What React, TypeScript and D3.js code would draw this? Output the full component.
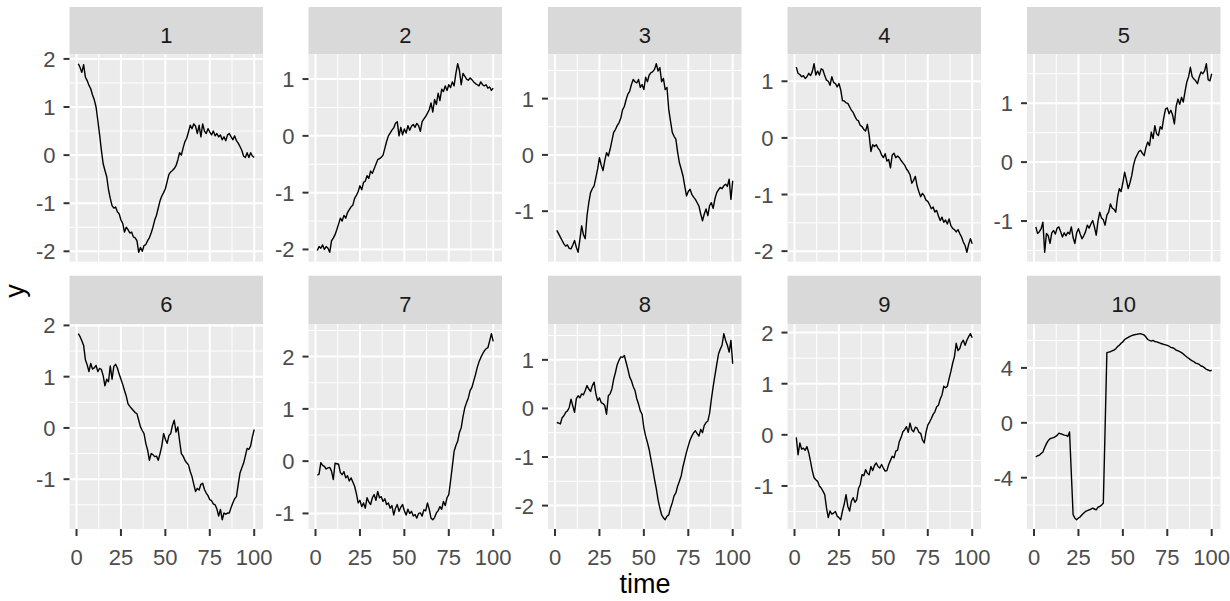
import React from 'react';
import * as d3 from 'd3';

const W = 1230;
const H = 601;

// time index shared by every facet
const times = d3.range(1, 101);

const s1 = [1.90, 1.82, 1.72, 1.88, 1.62, 1.55, 1.45, 1.38, 1.25, 1.15, 1.00, 0.72, 0.42, 0.10, -0.18, -0.32, -0.45, -0.72, -0.90, -1.05,
  -1.10, -1.08, -1.18, -1.22, -1.35, -1.42, -1.60, -1.50, -1.55, -1.62, -1.60, -1.70, -1.72, -1.78, -2.02, -1.92, -2.00, -1.88, -1.86, -1.78,
  -1.72, -1.62, -1.50, -1.35, -1.25, -1.10, -0.95, -0.85, -0.78, -0.70, -0.55, -0.40, -0.35, -0.32, -0.28, -0.22, -0.10, 0.05, 0.00, 0.15,
  0.28, 0.35, 0.48, 0.62, 0.55, 0.65, 0.60, 0.45, 0.62, 0.38, 0.65, 0.50, 0.45, 0.55, 0.48, 0.42, 0.50, 0.40, 0.45, 0.38,
  0.42, 0.32, 0.38, 0.30, 0.42, 0.45, 0.38, 0.32, 0.40, 0.30, 0.25, 0.18, 0.10, -0.02, -0.05, 0.05, -0.05, 0.05, -0.02, -0.05];

const s2 = [-2.02, -1.95, -1.98, -1.92, -2.00, -1.95, -1.98, -2.05, -1.85, -1.80, -1.74, -1.65, -1.55, -1.45, -1.50, -1.40, -1.45, -1.35, -1.30, -1.25,
  -1.22, -1.10, -1.05, -0.98, -0.88, -0.95, -0.82, -0.80, -0.70, -0.75, -0.62, -0.66, -0.58, -0.50, -0.42, -0.40, -0.38, -0.34, -0.22, -0.10,
  0.00, 0.05, 0.10, 0.14, 0.22, 0.25, 0.00, 0.15, 0.02, 0.12, 0.05, 0.18, 0.10, 0.17, 0.20, 0.15, 0.22, 0.18, 0.08, 0.25,
  0.30, 0.34, 0.40, 0.46, 0.58, 0.42, 0.64, 0.55, 0.75, 0.62, 0.82, 0.78, 0.88, 0.80, 0.90, 0.85, 0.95, 0.88, 1.10, 1.27,
  1.15, 0.90, 1.10, 1.05, 1.00, 0.98, 1.02, 0.99, 0.95, 0.92, 0.90, 0.88, 0.95, 0.90, 0.88, 0.90, 0.84, 0.86, 0.80, 0.84];

const s3 = [-1.34, -1.40, -1.46, -1.52, -1.58, -1.62, -1.60, -1.66, -1.67, -1.60, -1.52, -1.64, -1.73, -1.50, -1.26, -1.42, -1.49, -1.08, -0.85, -0.67,
  -0.60, -0.55, -0.40, -0.25, -0.05, -0.18, -0.28, -0.10, 0.04, -0.02, 0.10, 0.25, 0.40, 0.45, 0.52, 0.57, 0.65, 0.80, 0.86, 0.98,
  1.08, 1.13, 1.25, 1.34, 1.30, 1.28, 1.34, 1.20, 1.25, 1.16, 1.38, 1.30, 1.42, 1.46, 1.48, 1.52, 1.62, 1.49, 1.55, 1.30,
  1.36, 1.16, 1.20, 0.81, 0.60, 0.40, 0.33, 0.28, 0.05, -0.14, -0.25, -0.37, -0.55, -0.73, -0.65, -0.61, -0.70, -0.75, -0.79, -0.85,
  -0.91, -1.05, -1.17, -1.05, -0.96, -1.08, -0.90, -0.85, -0.95, -0.78, -0.67, -0.62, -0.58, -0.60, -0.55, -0.52, -0.56, -0.43, -0.79, -0.46];

const s4 = [1.25, 1.14, 1.12, 1.08, 1.10, 1.05, 1.08, 1.14, 1.10, 1.17, 1.31, 1.11, 1.18, 1.11, 1.22, 1.20, 1.10, 1.02, 1.00, 0.93,
  1.08, 0.98, 0.96, 0.90, 0.96, 0.85, 0.66, 0.65, 0.62, 0.61, 0.55, 0.49, 0.45, 0.38, 0.32, 0.30, 0.22, 0.20, 0.15, 0.12,
  0.24, 0.05, -0.24, -0.12, -0.15, -0.12, -0.18, -0.22, -0.30, -0.35, -0.28, -0.41, -0.38, -0.53, -0.30, -0.27, -0.35, -0.32, -0.35, -0.40,
  -0.44, -0.48, -0.55, -0.59, -0.65, -0.80, -0.75, -0.68, -0.85, -0.95, -1.04, -0.98, -1.02, -1.10, -1.12, -1.18, -1.25, -1.22, -1.31, -1.28,
  -1.38, -1.46, -1.40, -1.49, -1.45, -1.52, -1.43, -1.55, -1.60, -1.62, -1.66, -1.62, -1.69, -1.75, -1.84, -1.90, -2.02, -1.88, -1.78, -1.87];

const s5 = [-1.10, -1.21, -1.18, -1.13, -1.02, -1.53, -1.21, -1.25, -1.38, -1.20, -1.16, -1.22, -1.12, -1.10, -1.18, -1.27, -1.20, -1.25, -1.19, -1.22,
  -1.10, -1.28, -1.38, -1.20, -1.13, -1.22, -1.30, -1.25, -1.18, -1.07, -1.12, -1.05, -0.99, -1.10, -1.24, -1.00, -0.85, -0.95, -0.98, -1.07,
  -0.90, -0.85, -0.71, -0.78, -0.80, -0.85, -0.60, -0.45, -0.50, -0.35, -0.17, -0.30, -0.45, -0.35, -0.23, -0.05, 0.06, 0.12, 0.18, 0.20,
  0.15, 0.11, 0.25, 0.34, 0.28, 0.51, 0.40, 0.62, 0.48, 0.45, 0.60, 0.56, 0.75, 0.90, 0.92, 0.82, 0.88, 0.80, 0.65, 0.95,
  1.07, 0.98, 1.10, 1.02, 1.20, 1.36, 1.45, 1.61, 1.45, 1.41, 1.38, 1.33, 1.45, 1.53, 1.50, 1.55, 1.67, 1.40, 1.38, 1.50];

const s6 = [1.84, 1.78, 1.70, 1.61, 1.33, 1.23, 1.10, 1.26, 1.15, 1.17, 1.22, 1.10, 1.16, 1.14, 1.02, 0.82, 0.95, 0.90, 1.21, 0.95,
  1.20, 1.24, 1.17, 1.05, 0.95, 0.85, 0.73, 0.62, 0.47, 0.42, 0.38, 0.34, 0.30, 0.28, 0.15, 0.02, -0.05, -0.11, -0.30, -0.43,
  -0.63, -0.50, -0.52, -0.56, -0.55, -0.63, -0.50, -0.35, -0.11, -0.22, -0.30, -0.15, -0.11, 0.05, 0.15, -0.08, 0.02, -0.25, -0.50, -0.55,
  -0.63, -0.68, -0.72, -0.85, -0.95, -1.10, -1.24, -1.18, -1.21, -1.10, -1.08, -1.20, -1.27, -1.32, -1.40, -1.42, -1.48, -1.50, -1.58, -1.72,
  -1.59, -1.79, -1.66, -1.68, -1.66, -1.66, -1.55, -1.46, -1.38, -1.34, -1.10, -0.88, -0.78, -0.69, -0.55, -0.40, -0.42, -0.35, -0.17, -0.03];

const s7 = [-0.27, -0.25, -0.03, -0.08, -0.10, -0.15, -0.13, -0.12, -0.19, -0.35, -0.04, -0.05, -0.06, -0.22, -0.26, -0.20, -0.32, -0.28, -0.38, -0.32,
  -0.40, -0.48, -0.62, -0.80, -0.75, -0.87, -0.80, -0.90, -0.70, -0.78, -0.83, -0.70, -0.64, -0.75, -0.58, -0.70, -0.68, -0.77, -0.72, -0.83,
  -0.80, -0.90, -0.85, -1.03, -0.90, -0.83, -0.96, -0.88, -0.83, -0.95, -1.03, -0.92, -1.00, -0.96, -1.05, -1.02, -1.09, -1.00, -0.99, -1.05,
  -0.93, -0.95, -0.80, -0.92, -1.09, -1.12, -1.08, -0.99, -0.95, -0.87, -0.92, -0.77, -0.85, -0.70, -0.64, -0.38, -0.10, 0.19, 0.30, 0.38,
  0.55, 0.64, 0.85, 1.02, 1.12, 1.21, 1.35, 1.41, 1.53, 1.65, 1.79, 1.90, 1.98, 2.05, 2.11, 2.15, 2.17, 2.30, 2.44, 2.29];

const s8 = [-0.29, -0.30, -0.32, -0.19, -0.15, -0.08, -0.05, 0.02, 0.19, 0.05, -0.08, 0.20, 0.26, 0.22, 0.30, 0.28, 0.37, 0.47, 0.40, 0.35,
  0.47, 0.54, 0.30, 0.16, 0.22, 0.12, 0.10, 0.06, -0.12, 0.26, 0.30, 0.40, 0.60, 0.74, 0.90, 0.99, 1.06, 1.05, 1.09, 0.95,
  0.81, 0.65, 0.57, 0.45, 0.37, 0.20, 0.09, -0.05, -0.12, -0.40, -0.57, -0.70, -0.85, -1.05, -1.25, -1.46, -1.65, -1.88, -2.05, -2.19,
  -2.25, -2.29, -2.22, -2.19, -2.05, -1.94, -1.80, -1.74, -1.60, -1.50, -1.39, -1.20, -1.05, -0.90, -0.77, -0.65, -0.57, -0.50, -0.46, -0.52,
  -0.57, -0.43, -0.50, -0.35, -0.29, -0.26, -0.10, 0.19, 0.45, 0.68, 0.90, 1.12, 1.22, 1.30, 1.54, 1.40, 1.30, 1.16, 1.40, 0.92];

const s9 = [-0.05, -0.39, -0.16, -0.28, -0.26, -0.30, -0.23, -0.35, -0.52, -0.70, -0.84, -0.88, -0.91, -1.00, -1.04, -1.10, -1.17, -1.43, -1.62, -1.49,
  -1.55, -1.53, -1.50, -1.59, -1.62, -1.66, -1.49, -1.35, -1.17, -1.40, -1.49, -1.30, -1.23, -1.32, -1.27, -1.05, -0.97, -0.78, -0.80, -0.68,
  -0.75, -0.78, -0.62, -0.70, -0.60, -0.55, -0.62, -0.65, -0.58, -0.65, -0.71, -0.70, -0.58, -0.50, -0.42, -0.45, -0.32, -0.30, -0.13, -0.05,
  0.06, 0.10, 0.16, 0.05, 0.23, 0.10, 0.06, 0.15, 0.13, 0.05, 0.03, -0.10, -0.16, 0.05, 0.19, 0.25, 0.32, 0.40, 0.45, 0.55,
  0.58, 0.70, 0.78, 0.95, 0.92, 0.95, 1.10, 1.24, 1.40, 1.53, 1.79, 1.65, 1.69, 1.80, 1.85, 1.75, 1.85, 1.92, 1.98, 1.90];

const s10 = [-2.48, -2.40, -2.36, -2.24, -2.12, -1.80, -1.52, -1.30, -1.16, -1.12, -1.08, -1.00, -0.92, -0.75, -0.80, -0.84, -0.90, -0.92, -0.99, -0.67,
  -3.69, -6.70, -6.95, -7.06, -6.94, -6.85, -6.70, -6.58, -6.46, -6.40, -6.34, -6.30, -6.22, -6.28, -6.34, -6.15, -6.10, -6.00, -5.86, -0.43,
  5.11, 5.15, 5.18, 5.25, 5.30, 5.40, 5.55, 5.65, 5.80, 5.90, 6.07, 6.15, 6.22, 6.30, 6.35, 6.40, 6.43, 6.45, 6.48, 6.50,
  6.45, 6.40, 6.25, 6.07, 6.00, 5.95, 6.00, 5.92, 5.90, 5.85, 5.80, 5.76, 5.72, 5.68, 5.64, 5.58, 5.50, 5.47, 5.40, 5.30,
  5.25, 5.18, 5.11, 5.02, 4.90, 4.80, 4.70, 4.60, 4.51, 4.45, 4.35, 4.31, 4.25, 4.14, 4.10, 4.00, 3.90, 3.85, 3.78, 3.83];

const series = [s1, s2, s3, s4, s5, s6, s7, s8, s9, s10];
const facetLabels = ['1', '2', '3', '4', '5', '6', '7', '8', '9', '10'];
const yBreaks = [
  [-2, -1, 0, 1, 2], [-2, -1, 0, 1], [-1, 0, 1], [-2, -1, 0, 1], [-1, 0, 1],
  [-1, 0, 1, 2], [-1, 0, 1, 2], [-2, -1, 0, 1], [-1, 0, 1, 2], [-4, 0, 4],
];
const xBreaks = [0, 25, 50, 75, 100];

const colLeft = [69.5, 308.5, 548, 787.5, 1027];
const panelW = 193.5;
const rows = [
  { strip: 7, top: 54.3, bottom: 261.7 },
  { strip: 275.7, top: 324.3, bottom: 529 },
];

const font = '"Liberation Sans", Arial, sans-serif';

// ggplot-like 5% expansion of a continuous range
const expand = (ext: number[]) => {
  const r = ext[1] - ext[0];
  return [ext[0] - 0.05 * r, ext[1] + 0.05 * r];
};

// minor breaks half way between majors, kept only inside the limits
const minorOf = (breaks: number[], domain: number[]) => {
  const step = breaks[1] - breaks[0];
  const out: number[] = [];
  for (let v = breaks[0] - step / 2; v <= domain[1]; v += step) {
    if (v >= domain[0]) out.push(v);
  }
  return out;
};

function Facet({ i }: { i: number }) {
  const row = rows[Math.floor(i / 5)];
  const left = colLeft[i % 5];
  const bottomRow = i >= 5;
  const x = d3.scaleLinear().domain(expand(d3.extent(times) as number[])).range([left, left + panelW]);
  const values = series[i];
  const y = d3.scaleLinear().domain(expand(d3.extent(values) as number[])).range([row.bottom, row.top]);
  const line = d3.line<number>().x((d, k) => x(times[k])).y(d => y(d));
  const xMinor = minorOf(xBreaks, x.domain());
  const yMinor = minorOf(yBreaks[i], y.domain());

  return (
    <g>
      {/* strip */}
      <rect x={left} y={row.strip} width={panelW} height={row.top - row.strip} fill="#D9D9D9" />
      <text x={left + panelW / 2} y={row.strip + 36} textAnchor="middle" fontSize={22} fill="#1A1A1A">{facetLabels[i]}</text>
      {/* panel */}
      <rect x={left} y={row.top} width={panelW} height={row.bottom - row.top} fill="#EBEBEB" />
      {yMinor.map(v => <line key={'ym' + v} x1={left} x2={left + panelW} y1={y(v)} y2={y(v)} stroke="#fff" strokeWidth={1} />)}
      {xMinor.map(v => <line key={'xm' + v} x1={x(v)} x2={x(v)} y1={row.top} y2={row.bottom} stroke="#fff" strokeWidth={1} />)}
      {yBreaks[i].map(v => <line key={'y' + v} x1={left} x2={left + panelW} y1={y(v)} y2={y(v)} stroke="#fff" strokeWidth={2} />)}
      {xBreaks.map(v => <line key={'x' + v} x1={x(v)} x2={x(v)} y1={row.top} y2={row.bottom} stroke="#fff" strokeWidth={2} />)}
      <path d={line(values) || ''} fill="none" stroke="#000" strokeWidth={1.4} strokeLinejoin="round" />
      {/* y axis */}
      {yBreaks[i].map(v => (
        <g key={'yt' + v}>
          <line x1={left - 6} x2={left} y1={y(v)} y2={y(v)} stroke="#333" strokeWidth={2} />
          <text x={left - 14} y={y(v) + 8} textAnchor="end" fontSize={22} fill="#4D4D4D">{v < 0 ? '-' + Math.abs(v) : v}</text>
        </g>
      ))}
      {/* x axis only under the bottom row */}
      {bottomRow && xBreaks.map(v => (
        <g key={'xt' + v}>
          <line x1={x(v)} x2={x(v)} y1={row.bottom} y2={row.bottom + 7} stroke="#333" strokeWidth={2} />
          <text x={x(v)} y={565} textAnchor="middle" fontSize={22} fill="#4D4D4D">{v}</text>
        </g>
      ))}
    </g>
  );
}

export default function App() {
  return (
    <svg width={W} height={H} style={{ display: 'block', position: 'absolute', left: 0, top: 0, background: '#fff' }} fontFamily={font}>
      {series.map((_, i) => <Facet key={i} i={i} />)}
      <text x={645} y={593} textAnchor="middle" fontSize={27} fill="#000">time</text>
      <text transform="translate(24,291) rotate(-90)" textAnchor="middle" fontSize={27} fill="#000">y</text>
    </svg>
  );
}
